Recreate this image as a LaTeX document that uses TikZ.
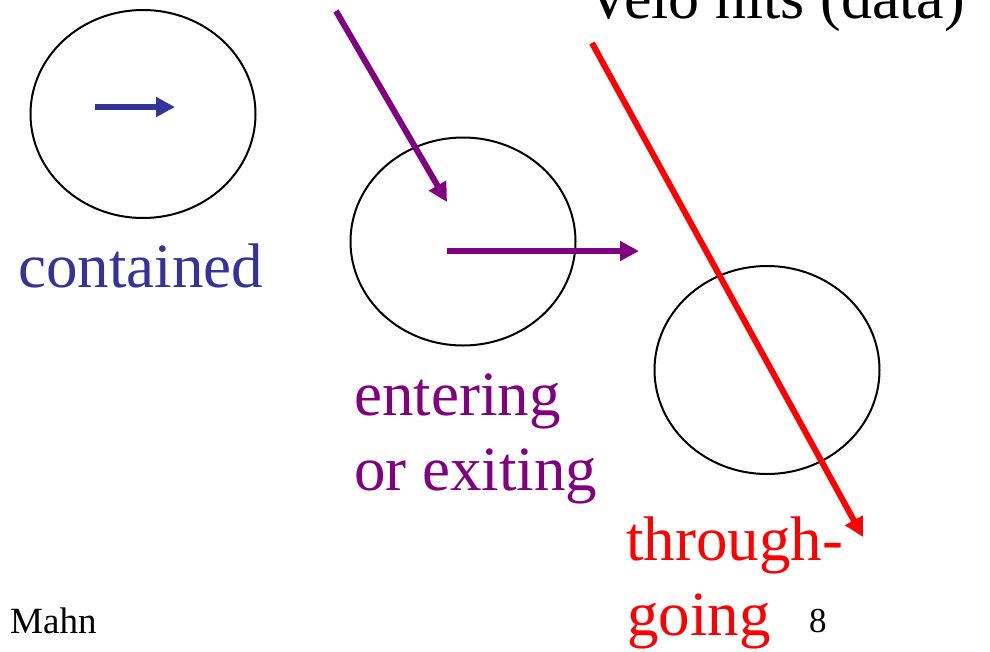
\documentclass[tikz,border=0pt]{standalone}
\usepackage{fontspec}
\setmainfont{Liberation Serif}
\usetikzlibrary{shapes.geometric,arrows.meta}
\definecolor{cblue}{HTML}{333399}
\definecolor{cpurple}{HTML}{800080}
\definecolor{cred}{HTML}{FF0000}
\begin{document}
\begin{tikzpicture}[x=1pt,y=-1pt,
  region/.style={ellipse,draw=black,line width=2pt,inner sep=0pt,minimum width=225pt,minimum height=208pt},
  lbl/.style={anchor=base west,inner sep=0pt,font=\fontsize{63}{75}\selectfont},
  small/.style={anchor=base west,inner sep=0pt,font=\fontsize{37}{44}\selectfont},
  track/.style={line width=6pt,-{Triangle[length=19pt,width=19pt]}}]
\useasboundingbox (0,0) rectangle (990,651);
\node[region] (e1) at (143,114) {};
\node[region] (e2) at (463,241.5) {};
\node[region] (e3) at (767,370) {};
% labels
\node[lbl,font=\fontsize{62}{75}\selectfont] (title) at (586,18) {Velo hits (data)};
\node[lbl,text=cblue] (contained) at (18,287) {contained};
\node[lbl,text=cpurple] (entering) at (354,415) {entering};
\node[lbl,text=cpurple] (orexit) at (354,490) {or exiting};
\node[lbl,text=cred] (through) at (626,560) {through-};
\node[lbl,text=cred] (going) at (627,635) {going};
\node[small] (mahn) at (10,633) {Mahn};
\node[small,font=\fontsize{35}{42}\selectfont] (page) at (809,632) {8};
% tracks
\coordinate (b0) at (95,107);
\coordinate (b1) at (175,107);
\coordinate (p0) at (336,11);
\coordinate (p1) at (447,202);
\coordinate (q0) at (447,251);
\coordinate (q1) at (639,251);
\coordinate (r0) at (592,43);
\coordinate (r1) at (863,537);
\draw[track,cblue] (b0) -- (b1);
\draw[track,cpurple] (p0) -- (p1);
\draw[track,cpurple] (q0) -- (q1);
\draw[track,cred] (r0) -- (r1);
\end{tikzpicture}
\end{document}
